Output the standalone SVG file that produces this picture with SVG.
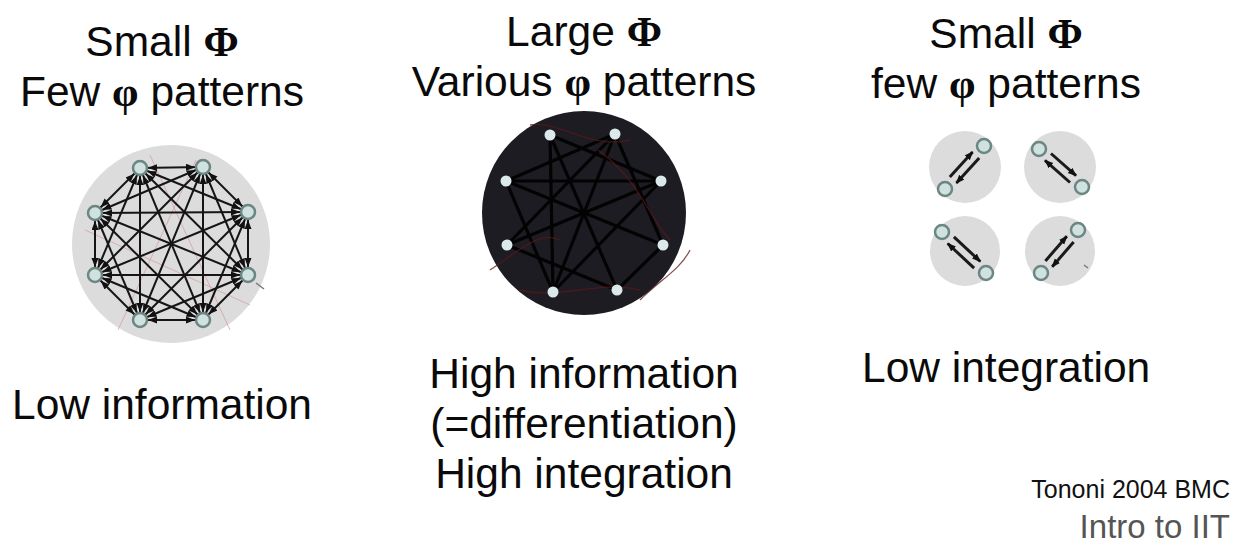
<svg xmlns="http://www.w3.org/2000/svg" width="1244" height="558" viewBox="0 0 1244 558">
<defs>
<style>
.t{font-family:"Liberation Sans",Arial,sans-serif;font-size:42.5px;fill:#0a0a0a}
.g{font-family:"Liberation Serif","Times New Roman",serif;font-weight:bold}
.mid{text-anchor:middle}
.kl{stroke:#151515;stroke-width:2;fill:none;marker-start:url(#ah);marker-end:url(#ah)}
.nd{fill:#cfe2df;stroke:#6c8683;stroke-width:2.5}
.md{stroke:#030303;stroke-width:3.2;fill:none}
.rd{stroke:#5a1818;stroke-width:1.3;fill:none;opacity:.75}
.fr{stroke:#d49a9a;stroke-width:1;fill:none;opacity:.7}
.ra{stroke:#1a1a1a;stroke-width:3;fill:none;marker-end:url(#ab)}
</style>
<marker id="ah" markerUnits="userSpaceOnUse" markerWidth="30" markerHeight="8" refX="17" refY="3.5" orient="auto-start-reverse"><path d="M0,0 L9,3.5 L0,7 z" fill="#111"/></marker>
<marker id="ab" markerUnits="userSpaceOnUse" markerWidth="10" markerHeight="8" refX="8" refY="3.5" orient="auto"><path d="M0,0 L9,3.5 L0,7 z" fill="#111"/></marker>
</defs>
<rect width="1244" height="558" fill="#fff"/>

<g id="titles">
<text class="t mid" x="162" y="56">Small <tspan class="g">Φ</tspan></text>
<text class="t mid" x="162" y="106">Few <tspan class="g">φ</tspan> patterns</text>
<text class="t mid" x="584" y="46">Large <tspan class="g">Φ</tspan></text>
<text class="t mid" x="584" y="96">Various <tspan class="g">φ</tspan> patterns</text>
<text class="t mid" x="1006" y="48">Small <tspan class="g">Φ</tspan></text>
<text class="t mid" x="1006" y="98">few <tspan class="g">φ</tspan> patterns</text>
</g>

<g id="network-left">
<circle cx="171" cy="244" r="99" fill="#dcdcdc"/>
<g class="faint">
<line class="fr" x1="118" y1="330" x2="196" y2="160"/>
<line class="fr" x1="85" y1="230" x2="250" y2="305"/>
<line class="fr" x1="150" y1="155" x2="230" y2="330"/>
</g>
<g id="left-edges">
<line class="kl" x1="140" y1="168" x2="203" y2="167"/>
<line class="kl" x1="140" y1="168" x2="95" y2="213"/>
<line class="kl" x1="140" y1="168" x2="248" y2="212"/>
<line class="kl" x1="140" y1="168" x2="95" y2="275"/>
<line class="kl" x1="140" y1="168" x2="248" y2="275"/>
<line class="kl" x1="140" y1="168" x2="140" y2="320"/>
<line class="kl" x1="140" y1="168" x2="203" y2="320"/>
<line class="kl" x1="203" y1="167" x2="95" y2="213"/>
<line class="kl" x1="203" y1="167" x2="248" y2="212"/>
<line class="kl" x1="203" y1="167" x2="95" y2="275"/>
<line class="kl" x1="203" y1="167" x2="248" y2="275"/>
<line class="kl" x1="203" y1="167" x2="140" y2="320"/>
<line class="kl" x1="203" y1="167" x2="203" y2="320"/>
<line class="kl" x1="95" y1="213" x2="248" y2="212"/>
<line class="kl" x1="95" y1="213" x2="95" y2="275"/>
<line class="kl" x1="95" y1="213" x2="248" y2="275"/>
<line class="kl" x1="95" y1="213" x2="140" y2="320"/>
<line class="kl" x1="95" y1="213" x2="203" y2="320"/>
<line class="kl" x1="248" y1="212" x2="95" y2="275"/>
<line class="kl" x1="248" y1="212" x2="248" y2="275"/>
<line class="kl" x1="248" y1="212" x2="140" y2="320"/>
<line class="kl" x1="248" y1="212" x2="203" y2="320"/>
<line class="kl" x1="95" y1="275" x2="248" y2="275"/>
<line class="kl" x1="95" y1="275" x2="140" y2="320"/>
<line class="kl" x1="95" y1="275" x2="203" y2="320"/>
<line class="kl" x1="248" y1="275" x2="140" y2="320"/>
<line class="kl" x1="248" y1="275" x2="203" y2="320"/>
<line class="kl" x1="140" y1="320" x2="203" y2="320"/>
</g>
<g id="left-nodes">
<circle class="nd" cx="140" cy="168" r="7"/>
<circle class="nd" cx="203" cy="167" r="7"/>
<circle class="nd" cx="95" cy="213" r="7"/>
<circle class="nd" cx="248" cy="212" r="7"/>
<circle class="nd" cx="95" cy="275" r="7"/>
<circle class="nd" cx="248" cy="275" r="7"/>
<circle class="nd" cx="140" cy="320" r="7"/>
<circle class="nd" cx="203" cy="320" r="7"/>
</g>
<line x1="256" y1="283" x2="264" y2="289" stroke="#777" stroke-width="1.5"/>
</g>

<g id="network-middle">
<circle cx="584" cy="213" r="102" fill="#1e1c23"/>
<g id="middle-edges">
<line class="md" x1="506" y1="181" x2="661" y2="181"/>
<line class="md" x1="550" y1="135" x2="617" y2="290"/>
<line class="md" x1="615" y1="134" x2="553" y2="292"/>
<line class="md" x1="506" y1="181" x2="663" y2="245"/>
<line class="md" x1="661" y1="181" x2="507" y2="245"/>
<line class="md" x1="550" y1="135" x2="661" y2="181"/>
<line class="md" x1="615" y1="134" x2="506" y2="181"/>
<line class="md" x1="615" y1="134" x2="507" y2="245"/>
<line class="md" x1="550" y1="135" x2="553" y2="292"/>
<line class="md" x1="507" y1="245" x2="617" y2="290"/>
<line class="md" x1="553" y1="292" x2="661" y2="181"/>
<line class="md" x1="617" y1="290" x2="663" y2="245"/>
<line class="md" x1="506" y1="181" x2="553" y2="292"/>
<line class="md" x1="615" y1="134" x2="663" y2="245"/>
</g>
<g id="middle-red">
<path class="rd" d="M598,150 C640,180 650,220 670,240"/>
<path class="rd" d="M490,270 C520,250 540,230 560,240"/>
<path class="rd" d="M520,290 C560,300 600,280 640,290"/>
<path class="rd" d="M530,125 C560,120 590,150 630,140"/>
<path class="rd" d="M640,300 C660,280 680,270 690,250"/>
</g>
<g id="middle-nodes" fill="#dbe9ea">
<circle cx="550" cy="135" r="5.5"/>
<circle cx="615" cy="134" r="5.5"/>
<circle cx="506" cy="181" r="5.5"/>
<circle cx="661" cy="181" r="5.5"/>
<circle cx="507" cy="245" r="5.5"/>
<circle cx="663" cy="245" r="5.5"/>
<circle cx="553" cy="292" r="5.5"/>
<circle cx="617" cy="290" r="5.5"/>
</g>
</g>

<g id="pair-tl">
<circle cx="965" cy="167" r="36" fill="#dcdcdc"/>
<line class="ra" x1="949.8" y1="177.1" x2="972.6" y2="151.9"/>
<line class="ra" x1="979.2" y1="157.9" x2="956.4" y2="183.1"/>
<circle class="nd" cx="984" cy="146" r="7"/>
<circle class="nd" cx="945" cy="189" r="7"/>
</g>
<g id="pair-tr">
<circle cx="1060" cy="167" r="36" fill="#dcdcdc"/>
<line class="ra" x1="1051" y1="153.5" x2="1076" y2="175.7"/>
<line class="ra" x1="1070" y1="182.5" x2="1045" y2="160.3"/>
<circle class="nd" cx="1039" cy="149" r="7"/>
<circle class="nd" cx="1082" cy="187" r="7"/>
</g>
<g id="pair-bl">
<circle cx="965" cy="251" r="35" fill="#dcdcdc"/>
<line class="ra" x1="953.9" y1="236.9" x2="980.3" y2="261.5"/>
<line class="ra" x1="974.1" y1="268.1" x2="947.7" y2="243.5"/>
<circle class="nd" cx="942" cy="232" r="7"/>
<circle class="nd" cx="986" cy="273" r="7"/>
</g>
<g id="pair-br">
<circle cx="1060" cy="251" r="35" fill="#dcdcdc"/>
<line class="ra" x1="1045.4" y1="261" x2="1066.8" y2="236.2"/>
<line class="ra" x1="1073.6" y1="242" x2="1052.2" y2="266.8"/>
<circle class="nd" cx="1078" cy="230" r="7"/>
<circle class="nd" cx="1041" cy="273" r="7"/>
<line x1="1084" y1="265" x2="1088" y2="268" stroke="#777" stroke-width="1.5"/>
</g>

<g id="captions">
<text class="t" x="12" y="419">Low information</text>
<text class="t mid" x="584" y="388">High information</text>
<text class="t mid" x="584" y="438">(=differentiation)</text>
<text class="t mid" x="584" y="488">High integration</text>
<text class="t" x="862" y="382">Low integration</text>
<text x="1230" y="498" text-anchor="end" font-family="Liberation Sans, Arial, sans-serif" font-size="25" fill="#111">Tononi 2004 BMC</text>
<text x="1230" y="538" text-anchor="end" font-family="Liberation Sans, Arial, sans-serif" font-size="33" fill="#555">Intro to IIT</text>
</g>
</svg>
